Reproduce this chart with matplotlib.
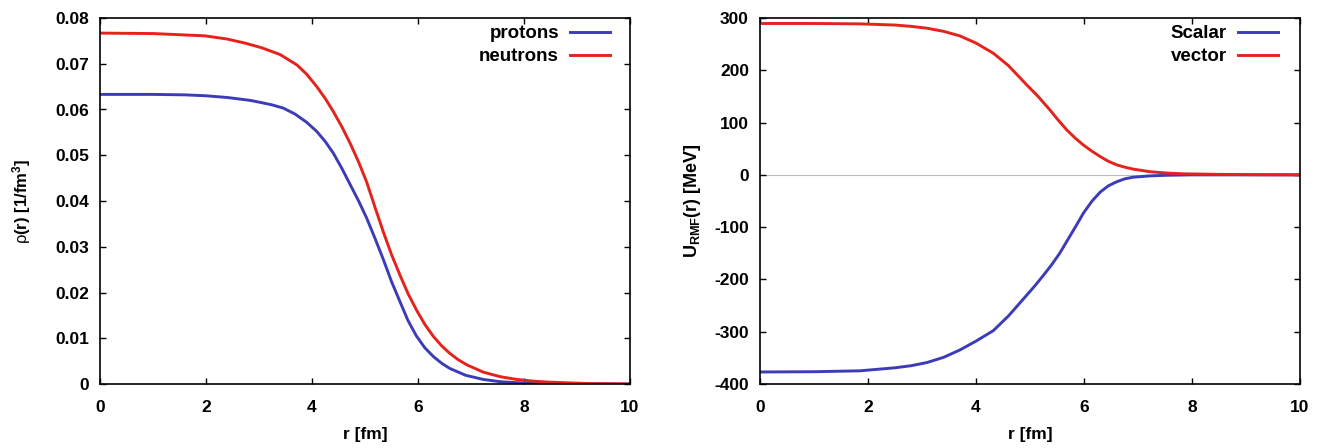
import matplotlib
matplotlib.use("Agg")
import matplotlib.pyplot as plt

plt.rcParams['font.family'] = ['Liberation Sans', 'DejaVu Sans']
plt.rcParams['mathtext.fontset'] = 'custom'
plt.rcParams['mathtext.rm'] = 'Liberation Sans:bold'
plt.rcParams['mathtext.it'] = 'Liberation Sans'
plt.rcParams['mathtext.bf'] = 'Liberation Sans:bold'
plt.rcParams['axes.unicode_minus'] = False

# Density data
r_protons = [0, 1.0, 1.6, 2.0, 2.42, 2.83, 3.05, 3.25, 3.46, 3.68, 3.9, 4.09, 4.25, 4.40, 4.56, 4.72,
             4.88, 5.03, 5.19, 5.35, 5.50, 5.66, 5.81, 5.97, 6.13, 6.29, 6.45, 6.60, 6.9, 7.23,
             7.55, 7.86, 8.3, 9.0, 10]
rho_protons = [0.0633, 0.0633, 0.0632, 0.0630, 0.0626, 0.0620, 0.0615, 0.0610, 0.0603, 0.0590, 0.0572,
               0.0552, 0.0530, 0.0505, 0.0472, 0.0436, 0.0400, 0.0363, 0.0318, 0.0271, 0.0224, 0.0180,
               0.0139, 0.0105, 0.0079, 0.0060, 0.0045, 0.0034, 0.0019, 0.0010, 0.0005, 0.0003,
               0.0001, 0.0, 0.0]
r_neutrons = [0, 1.0, 1.98, 2.4, 2.74, 3.05, 3.40, 3.72, 3.9, 4.09, 4.25, 4.40, 4.56, 4.72, 4.88,
              5.03, 5.19, 5.35, 5.50, 5.66, 5.81, 5.97, 6.13, 6.29, 6.45, 6.60, 6.76, 6.92, 7.23,
              7.55, 7.86, 8.2, 8.49, 9.2, 10]
rho_neutrons = [0.0767, 0.0766, 0.0761, 0.0754, 0.0745, 0.0735, 0.0720, 0.0697, 0.0677, 0.0650, 0.0624,
                0.0596, 0.0563, 0.0526, 0.0485, 0.0442, 0.0386, 0.0331, 0.0283, 0.0238, 0.0198,
                0.0162, 0.0130, 0.0104, 0.0083, 0.0067, 0.0053, 0.0042, 0.0026, 0.0016, 0.0010,
                0.0006, 0.0004, 0.0001, 0.0]

# Potential data
r_vector = [0, 1.0, 1.85, 2.5, 2.8, 3.09, 3.4, 3.70, 4.0, 4.32, 4.6, 4.94, 5.15, 5.37, 5.52, 5.68,
            5.84, 5.99, 6.15, 6.30, 6.45, 6.61, 6.76, 6.91, 7.22, 7.53, 7.84, 8.46, 9.2, 10]
u_vector = [289.5, 289.5, 288.8, 286.5, 284, 280.5, 274.5, 265.8, 252, 232.7, 209, 172, 150, 124,
            105, 86, 70, 57, 45, 35, 26, 19, 14.5, 11, 6, 3.5, 2, 1, 0.3, 0]
r_scalar = [0, 1.0, 1.85, 2.5, 2.8, 3.09, 3.4, 3.70, 4.0, 4.32, 4.6, 4.94, 5.1, 5.25, 5.4, 5.55,
            5.7, 5.85, 5.99, 6.15, 6.30, 6.45, 6.61, 6.76, 6.91, 7.22, 7.53, 8.0, 10]
u_scalar = [-377, -376.5, -374.8, -369, -365, -359, -349, -335, -318, -298, -270, -230, -211, -192,
            -172, -150, -124, -98, -73, -50, -33, -21, -13, -7.5, -4.5, -2, -0.8, 0, 0]

blue = '#3c3cb8'
red = '#e6221c'

fig = plt.figure(figsize=(13.24, 4.48), dpi=100)
ax1 = fig.add_axes([100/1324, 64/448, 530/1324, 366/448])
ax2 = fig.add_axes([760/1324, 64/448, 540/1324, 366/448])

ax1.plot(r_protons, rho_protons, color=blue, lw=2.1, label='protons')
ax1.plot(r_neutrons, rho_neutrons, color=red, lw=2.1, label='neutrons')
ax1.set_xlim(0, 10)
ax1.set_ylim(0, 0.08)
ax1.set_xticks([0, 2, 4, 6, 8, 10])
ax1.set_yticks([0, 0.01, 0.02, 0.03, 0.04, 0.05, 0.06, 0.07, 0.08])
ax1.set_yticklabels(['0', '0.01', '0.02', '0.03', '0.04', '0.05', '0.06', '0.07', '0.08'])
ax1.set_xlabel('r [fm]', fontsize=12.5, fontweight='bold', labelpad=9)
ax1.set_ylabel(r'$\rho$(r) [1/fm$^{\mathrm{3}}$]', fontsize=12, fontweight='bold', labelpad=16)

ax2.axhline(0, color='#bbbbbb', lw=0.8, zorder=0)
ax2.plot(r_scalar, u_scalar, color=blue, lw=2.1, label='Scalar')
ax2.plot(r_vector, u_vector, color=red, lw=2.1, label='vector')
ax2.set_xlim(0, 10)
ax2.set_ylim(-400, 300)
ax2.set_xticks([0, 2, 4, 6, 8, 10])
ax2.set_yticks([-400, -300, -200, -100, 0, 100, 200, 300])
ax2.set_xlabel('r [fm]', fontsize=12.5, fontweight='bold', labelpad=9)
ax2.set_ylabel(r'U$_{\mathrm{RMF}}$(r) [MeV]', fontsize=13, fontweight='bold', labelpad=8)

for ax, dx in ((ax1, 10 / 530), (ax2, 12 / 540)):
    ax.tick_params(direction='in', top=True, right=True, length=4, width=1, labelsize=12.5)
    ax.tick_params(axis='x', pad=11.5)
    ax.tick_params(axis='y', pad=8)
    for lab in ax.get_xticklabels() + ax.get_yticklabels():
        lab.set_fontweight('bold')
    for s in ax.spines.values():
        s.set_linewidth(1.2)
    leg = ax.legend(loc='upper right', bbox_to_anchor=(1 - dx, 1 + 3 / 366), frameon=False,
                    markerfirst=False, fontsize=13.5, handlelength=2.1, borderaxespad=0.15,
                    labelspacing=0.3, handletextpad=0.6)
    for t in leg.get_texts():
        t.set_fontweight('bold')
        t.set_ha('right')

fig.savefig('out.png', dpi=100)
